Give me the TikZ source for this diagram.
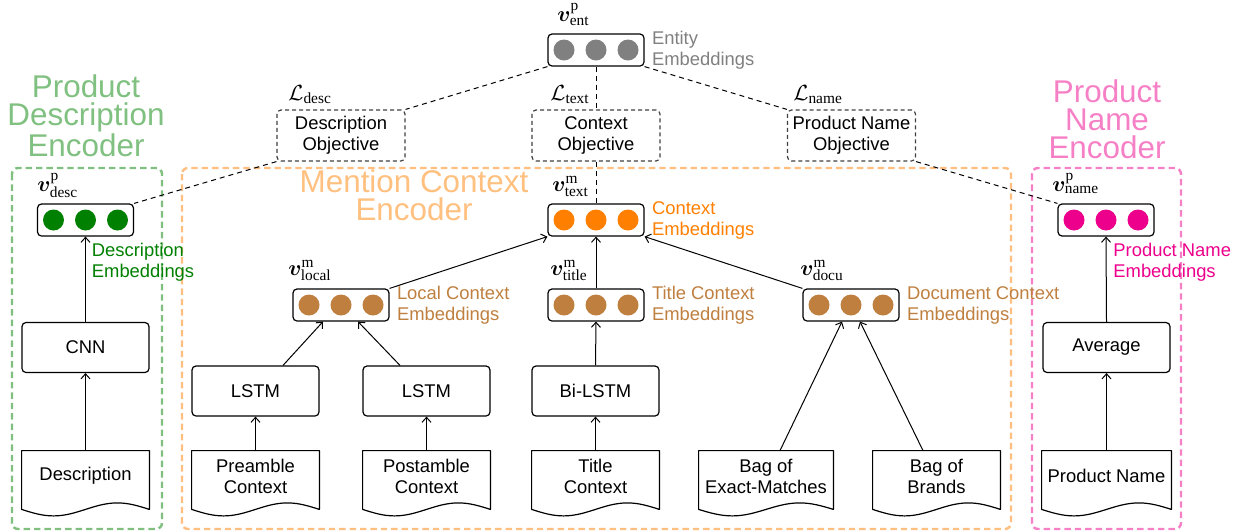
\documentclass[tikz,border=0pt]{standalone}
\usepackage{bm}
\usepackage{fontspec}
\setmainfont{Liberation Serif}
\setsansfont{Liberation Sans}
\renewcommand{\familydefault}{\sfdefault}
\usetikzlibrary{arrows.meta,calc}

\definecolor{entgray}{RGB}{128,128,128}
\definecolor{descgreen}{RGB}{0,128,0}
\definecolor{ctxorange}{RGB}{255,128,0}
\definecolor{namepink}{RGB}{236,0,140}
\definecolor{ctxbrown}{RGB}{191,127,63}

\tikzset{
  emb/.style={draw, rounded corners=2pt, line width=0.6pt, minimum width=48pt, minimum height=16pt, inner sep=0pt},
  dot/.style={circle, fill=#1, minimum size=10.5pt, inner sep=0pt},
  layer/.style={draw, rounded corners=2pt, line width=0.6pt, minimum width=63.5pt, minimum height=25pt, inner sep=1pt},
  objective/.style={draw=black!75, dash pattern=on 2pt off 1.5pt, rounded corners=2pt, line width=0.6pt,
    minimum width=64pt, minimum height=25.5pt, align=center, inner sep=1pt},
  doc/.style={minimum width=#1, minimum height=25pt, align=center, inner sep=1pt},
  doc/.default=63.5pt,
  docline/.style={line width=0.6pt, line join=round},
  embtext/.style={text=#1, align=left, inner sep=0pt},
  vec/.style={anchor=base west, inner sep=0pt, font=\fontsize{11}{13}\selectfont},
  frame/.style={draw=#1!50, line width=1.2pt, dash pattern=on 3.2pt off 2pt, rounded corners=3pt},
  title/.style={text=#1!50, align=center, inner sep=0pt, anchor=south, font=\fontsize{15.7}{14}\selectfont},
  arr/.style={-{Straight Barb[length=2.5pt,width=4.5pt]}, line width=0.5pt},
  link/.style={dash pattern=on 2.5pt off 2pt, line width=0.5pt}
}

% box with three embedding dots: name, position, colour
\newcommand{\EmbBox}[3]{%
  \node[emb] (#1) at #2 {};
  \foreach \k in {-1,0,1}
    \node[dot=#3] (#1-\k) at ([xshift=\k*16pt]#1.center) {};
}

\begin{document}
\begin{tikzpicture}[x=0.5pt, y=-0.5pt, font=\fontsize{9.2}{10.5}\selectfont]
  \useasboundingbox (0,0) rectangle (1242,531);

  % encoder frames and titles
  \draw[frame=descgreen] (12,168) rectangle (162,529);
  \draw[frame=ctxorange] (182,168) rectangle (1011,529);
  \draw[frame=namepink] (1032,168) rectangle (1181,529);
  \node[title=descgreen] (tdesc) at (86,157) {Product\\Description\\Encoder};
  \node[title=ctxorange] (tctx) at (414,221) {Mention Context\\Encoder};
  \node[title=namepink] (tname) at (1107,159) {Product\\Name\\Encoder};

  % embeddings
  \EmbBox{ent}{(596,50)}{entgray}
  \EmbBox{desc}{(85.5,220)}{descgreen}
  \EmbBox{text}{(596,220)}{ctxorange}
  \EmbBox{name}{(1106,220)}{namepink}
  \EmbBox{local}{(341,305)}{ctxbrown}
  \EmbBox{title}{(596,305)}{ctxbrown}
  \EmbBox{docu}{(851,305)}{ctxbrown}

  \node[vec] (vent) at (557,21) {$\bm{v}^{\mathrm{p}}_{\mathrm{ent}}$};
  \node[vec] (vdesc) at (37,191) {$\bm{v}^{\mathrm{p}}_{\mathrm{desc}}$};
  \node[vec] (vtext) at (552,191) {$\bm{v}^{\mathrm{m}}_{\mathrm{text}}$};
  \node[vec] (vname) at (1052,191) {$\bm{v}^{\mathrm{p}}_{\mathrm{name}}$};
  \node[vec] (vlocal) at (288,275) {$\bm{v}^{\mathrm{m}}_{\mathrm{local}}$};
  \node[vec] (vtitle) at (550,275) {$\bm{v}^{\mathrm{m}}_{\mathrm{title}}$};
  \node[vec] (vdocu) at (800,275) {$\bm{v}^{\mathrm{m}}_{\mathrm{docu}}$};

  \node[embtext=entgray, anchor=west] (eent) at ([xshift=3.5pt]ent.east) {Entity\\Embeddings};
  \node[embtext=ctxorange, anchor=west] (etext) at ([xshift=3.5pt]text.east) {Context\\Embeddings};
  \node[embtext=ctxbrown, anchor=west] (elocal) at ([xshift=3.5pt]local.east) {Local Context\\Embeddings};
  \node[embtext=ctxbrown, anchor=west] (etitle) at ([xshift=3.5pt]title.east) {Title Context\\Embeddings};
  \node[embtext=ctxbrown, anchor=west] (edocu) at ([xshift=3.5pt]docu.east) {Document Context\\Embeddings};
  \node[embtext=descgreen, anchor=north west] (edesc) at ([xshift=3pt,yshift=-3pt]desc.south) {Description\\Embeddings};
  \node[embtext=namepink, anchor=north west] (ename) at ([xshift=3.5pt,yshift=-3pt]name.south) {Product Name\\Embeddings};

  % objectives
  \node[objective] (odesc) at (341,135.5) {Description\\Objective};
  \node[objective] (otext) at (596,135.5) {Context\\Objective};
  \node[objective] (oname) at (851.5,135.5) {Product Name\\Objective};
  \node[vec] (ldesc) at (288,100) {$\mathcal{L}_{\mathrm{desc}}$};
  \node[vec] (ltext) at (550,100) {$\mathcal{L}_{\mathrm{text}}$};
  \node[vec] (lname) at (793,100) {$\mathcal{L}_{\mathrm{name}}$};

  % encoder layers
  \node[layer] (cnn) at (85.5,347.5) {CNN};
  \node[layer] (lstma) at (255.5,391) {LSTM};
  \node[layer] (lstmb) at (426.5,391) {LSTM};
  \node[layer] (bilstm) at (595.5,391) {Bi-LSTM};
  \node[layer] (avg) at (1106.5,347.5) {Average};

  % input documents
  \node[doc] (ddesc) at (85.5,476) {Description};
  \node[doc] (dpre) at (255.5,476) {Preamble\\Context};
  \node[doc] (dpost) at (426.5,476) {Postamble\\Context};
  \node[doc] (dtitle) at (595.5,476) {Title\\Context};
  \node[doc=67pt] (dexact) at (766,476) {Bag of\\Exact-Matches};
  \node[doc] (dbrand) at (936.5,476) {Bag of\\Brands};
  \node[doc=64.5pt] (dpname) at (1106.5,476) {Product Name};
  \foreach \d in {ddesc,dpre,dpost,dtitle,dexact,dbrand,dpname}
    \draw[docline] let \p1=(\d.south west), \p2=(\d.north east), \n1={(\x2-\x1)/4} in
      (\x1,\y1-4pt) -- (\x1,\y2) -- (\x2,\y2) -- (\x2,\y1-4pt)
      sin ({\x2-\n1*1pt},\y1-0.75pt) cos ({\x1+2*\n1*1pt},\y1-4pt)
      sin ({\x1+\n1*1pt},\y1-7.25pt) cos (\x1,\y1-4pt) -- cycle;

  % objective links
  \draw[link] (ent.south west) -- (odesc.north east);
  \draw[link] (ent.south) -- (otext.north);
  \draw[link] (ent.south east) -- (oname.north west);
  \draw[link] (odesc.south west) -- (desc.north east);
  \draw[link] (otext.south) -- (text.north);
  \draw[link] (oname.south east) -- (name.north west);

  % data flow
  \draw[arr] (ddesc.north) -- (cnn.south);
  \draw[arr] (cnn.north) -- (desc.south);
  \draw[arr] (dpre.north) -- (lstma.south);
  \draw[arr] (dpost.north) -- (lstmb.south);
  \draw[arr] ([xshift=13.75pt]lstma.north) -- ([xshift=-9pt]local.south);
  \draw[arr] ([xshift=-13.25pt]lstmb.north) -- ([xshift=8.5pt]local.south);
  \draw[arr] (dtitle.north) -- (bilstm.south);
  \draw[arr] (bilstm.north) -- (title.south);
  \draw[arr] ([xshift=7pt]dexact.north) -- ([xshift=-4.5pt]docu.south);
  \draw[arr] ([xshift=-6.75pt]dbrand.north) -- ([xshift=4.5pt]docu.south);
  \draw[arr] (local.north east) -- (text.south west);
  \draw[arr] (title.north) -- (text.south);
  \draw[arr] (docu.north west) -- (text.south east);
  \draw[arr] (dpname.north) -- (avg.south);
  \draw[arr] (avg.north) -- (name.south);
\end{tikzpicture}
\end{document}
